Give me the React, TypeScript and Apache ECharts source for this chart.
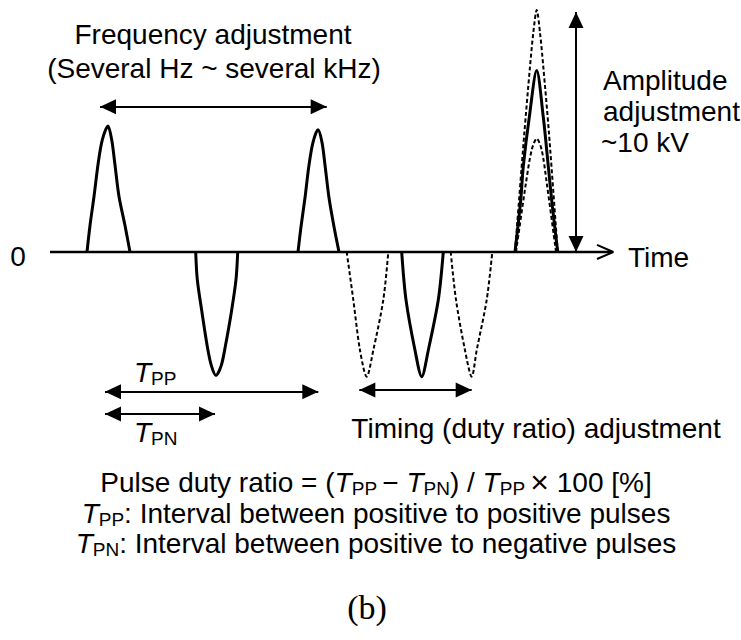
import React, { useEffect, useRef } from "react";
import * as echarts from "echarts";

// Axis ranges (time in arbitrary units, voltage in normalised units)
const TIME_MIN = 0;
const TIME_MAX = 74.1;
const V_MIN = -3.08;
const V_MAX = 2.0;

// Waveform data [time, value]
const baseline = [[5.0, 0], [61.2, 0]];
const timeArrowHead = [[59.7, 0.056], [61.33, 0], [59.7, -0.056]];

const positivePulse1 = [
  [8.7, 0], [9.0, 0.21], [9.4, 0.44], [9.83, 0.71], [10.23, 0.89], [10.8, 1.0],
  [11.17, 0.89], [11.47, 0.71], [11.9, 0.44], [12.5, 0.21], [13.0, 0],
];
const positivePulse2 = [
  [29.8, 0], [30.1, 0.2], [30.5, 0.43], [30.9, 0.69], [31.3, 0.87], [31.8, 0.97],
  [32.2, 0.87], [32.5, 0.69], [32.9, 0.43], [33.4, 0.2], [33.9, 0],
];
const negativePulse1 = [
  [19.57, 0], [19.73, -0.22], [20.2, -0.48], [20.73, -0.75], [21.13, -0.9], [21.6, -0.98],
  [22.13, -0.9], [22.53, -0.75], [23.13, -0.48], [23.6, -0.22], [23.77, 0],
];
const negativePulse2 = [
  [40.17, 0], [40.6, -0.38], [41.5, -0.78], [42.17, -0.99], [42.83, -0.78], [43.83, -0.38], [44.33, 0],
];
const negativeEarly = [
  [34.67, 0], [35.33, -0.38], [36.0, -0.78], [36.67, -0.99], [37.33, -0.78], [38.33, -0.38], [38.83, 0],
];
const negativeLate = [
  [45.07, 0], [45.6, -0.38], [46.5, -0.78], [47.17, -0.99], [47.67, -0.78], [48.67, -0.38], [49.23, 0],
];
const ampNominal = [
  [51.5, 0], [52.07, 0.41], [52.33, 0.68], [52.93, 1.07], [53.67, 1.44],
  [54.33, 1.07], [54.83, 0.68], [55.17, 0.41], [55.77, 0],
];
const ampHigh = [
  [51.5, 0], [52.43, 0.94], [53.0, 1.47], [53.33, 1.74], [53.67, 1.92],
  [54.0, 1.74], [54.33, 1.47], [54.9, 0.94], [55.77, 0],
];
const ampLow = [
  [51.6, 0], [52.6, 0.55], [53.17, 0.81], [53.67, 0.9], [54.17, 0.81], [54.67, 0.55], [55.6, 0],
];

// Double-headed arrows [[from], [to]]
const freqArrow = [[10.0, 1.153], [32.67, 1.153]];
const ampArrow = [[57.6, 0], [57.6, 1.905]];
const tppArrow = [[10.5, -1.109], [31.83, -1.109]];
const tpnArrow = [[10.5, -1.286], [21.5, -1.286]];
const timingArrow = [[35.93, -1.095], [47.17, -1.095]];

// Texts
const freqTitle = "Frequency adjustment";
const freqRange = "(Several Hz ~ several kHz)";
const zeroLabel = "0";
const timeLabel = "Time";
const ampLines = ["Amplitude", "adjustment", "~10 kV"];
const timingLabel = "Timing (duty ratio) adjustment";
const figLabel = "(b)";

const FONT = "'Liberation Sans', Arial, sans-serif";
const FS = 28;

export default function App() {
  const ref = useRef<HTMLDivElement>(null);
  useEffect(() => {
    if (!ref.current) return;
    const chart = echarts.init(ref.current, null, { renderer: "svg" });

    const solid = { color: "#000", width: 3, type: "solid" as const };
    const dashed = { color: "#000", width: 2, type: [4, 2.5] as any };

    const lineSeries = (data: number[][], style: any, smooth: number | boolean = 0.3) => ({
      type: "line",
      data,
      showSymbol: false,
      symbol: "none",
      smooth,
      lineStyle: style,
      silent: true,
      z: 3,
    });

    const rich = {
      n: { fontSize: FS, fontFamily: FONT, fill: "#000", color: "#000" },
      big: { fontSize: 32, fontFamily: FONT, fill: "#000", color: "#000" },
      it: { fontSize: FS, fontFamily: FONT, fontStyle: "italic", fill: "#000", color: "#000" },
      sub: { fontSize: 19, fontFamily: FONT, padding: [12, 0, 0, 0], fill: "#000", color: "#000" },
    };

    const txt = (text: string, x: number, y: number, align: string, extra: any = {}) => ({
      type: "text",
      x,
      y,
      silent: true,
      style: {
        text,
        x: 0,
        y: 0,
        fontSize: FS,
        fontFamily: FONT,
        fill: "#000",
        align,
        textAlign: align,
        verticalAlign: "middle",
        textVerticalAlign: "middle",
        rich,
        ...extra,
      },
    });

    const arrows = [freqArrow, ampArrow, tppArrow, tpnArrow, timingArrow];

    chart.setOption({
      animation: false,
      backgroundColor: "#fff",
      grid: { left: 0, right: 0, top: 0, bottom: 0 },
      xAxis: { type: "value", min: TIME_MIN, max: TIME_MAX, show: false },
      yAxis: { type: "value", min: V_MIN, max: V_MAX, show: false },
      series: [
        {
          type: "line",
          data: baseline,
          showSymbol: false,
          symbol: "none",
          lineStyle: { color: "#000", width: 2.5 },
          silent: true,
          markLine: {
            silent: true,
            symbol: ["triangle", "triangle"],
            symbolSize: [15, 16],
            symbolOffset: [[0, 8], [0, 8]],
            label: { show: false },
            lineStyle: { color: "#000", width: 2, type: "solid" },
            itemStyle: { color: "#000" },
            emphasis: { disabled: true },
            data: arrows.map((a) => [{ coord: a[0] }, { coord: a[1] }]),
          },
        },
        lineSeries(timeArrowHead, { color: "#000", width: 2 }, false),
        lineSeries(positivePulse1, solid),
        lineSeries(positivePulse2, solid),
        lineSeries(negativePulse1, solid),
        lineSeries(negativePulse2, solid),
        lineSeries(negativeEarly, dashed),
        lineSeries(negativeLate, dashed),
        lineSeries(ampHigh, dashed),
        lineSeries(ampLow, dashed),
        lineSeries(ampNominal, solid),
      ],
      graphic: [
        txt(freqTitle, 213, 34, "center"),
        txt(freqRange, 214, 68, "center"),
        txt(zeroLabel, 18, 256, "center"),
        txt(timeLabel, 628, 257, "left"),
        txt(ampLines[0], 603, 80, "left"),
        txt(ampLines[1], 603, 111, "left"),
        txt(ampLines[2], 601, 142, "left"),
        txt("{it|T}{sub|PP}", 134, 372, "left"),
        txt("{it|T}{sub|PN}", 134, 432, "left"),
        txt(timingLabel, 536, 428, "center"),
        txt(
          "{n|Pulse duty ratio = (}{it|T}{sub|PP }{n|− }{it|T}{sub|PN}{n|) / }{it|T}{sub|PP }{big|×}{n| 100 [%]}",
          376, 482, "center"
        ),
        txt("{it|T}{sub|PP}{n|: Interval between positive to positive pulses}", 376, 513, "center"),
        txt("{it|T}{sub|PN}{n|: Interval between positive to negative pulses}", 376, 543, "center"),
        txt(figLabel, 367, 607, "center", { fontFamily: "'Liberation Serif', serif", fontSize: 34 }),
      ],
    });
    return () => chart.dispose();
  }, []);
  return (
    <div
      ref={ref}
      style={{ position: "absolute", left: 0, top: 0, width: 741, height: 640, background: "#fff" }}
    />
  );
}
